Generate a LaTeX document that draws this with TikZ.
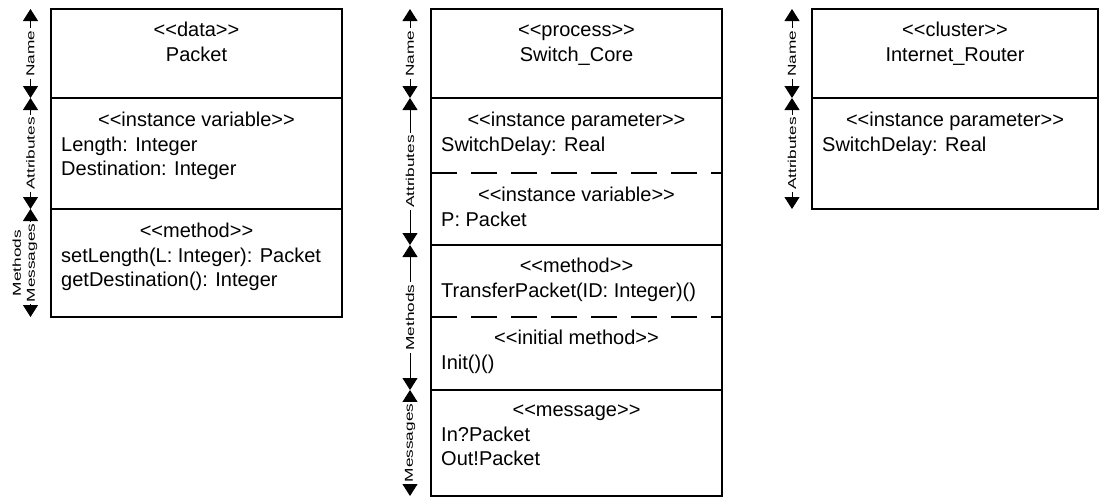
\documentclass[tikz,border=0pt]{standalone}
\usepackage{graphicx}
\usepackage{fontspec}
\setmainfont{Liberation Sans}[Ligatures=TeXOff]
\usetikzlibrary{arrows.meta}
\tikzset{
  dimtip/.tip={Triangle[width=15pt,length=12pt]},
  umlbox/.style={draw, line width=1.3pt, anchor=north west, inner sep=0pt, outer sep=0pt},
  divider/.style={line width=1.3pt},
  dashdiv/.style={line width=1.3pt, dash pattern=on 26pt off 14pt},
  stereo/.style={font=\fontsize{20}{24}\selectfont, anchor=base, inner sep=0pt},
  attr/.style={font=\fontsize{20}{24}\selectfont, anchor=base west, inner sep=0pt},
  dimlbl/.style={font=\fontsize{11.5}{14}\selectfont, rotate=90, fill=white, inner sep=2pt, align=center},
  dimarrow/.style={line width=1pt, arrows={dimtip-dimtip}},
}
\newcommand{\stretchlbl}[1]{\scalebox{1.5}[1]{#1}}
\begin{document}
\begin{tikzpicture}[x=1pt,y=-1pt]
\useasboundingbox (0,0) rectangle (1100,498);

% ---------------- Box 1: Packet ----------------
\node[umlbox, minimum width=291pt, minimum height=308pt] (b1) at (51,9) {};
\coordinate (b1l1) at (51,98);  \coordinate (b1r1) at (342,98);
\coordinate (b1l2) at (51,209); \coordinate (b1r2) at (342,209);
\draw[divider] (b1l1) -- (b1r1);
\draw[divider] (b1l2) -- (b1r2);
\node[stereo] (b1s1) at (196.5,36) {<<data>>};
\node[stereo] (b1n)  at (196.5,61) {Packet};
\node[stereo] (b1s2) at (196.5,126) {<<instance variable>>};
\node[attr]   (b1a1) at (61,151) {Length: Integer};
\node[attr]   (b1a2) at (61,175) {Destination: Integer};
\node[stereo] (b1s3) at (196.5,237) {<<method>>};
\node[attr]   (b1m1) at (61,262) {setLength(L: Integer): Packet};
\node[attr]   (b1m2) at (61,286) {getDestination(): Integer};

\coordinate (d1a) at (30.5,9);
\coordinate (d1b) at (30.5,98);
\coordinate (d1c) at (30.5,209);
\coordinate (d1d) at (30.5,317);
\draw[dimarrow] (d1a) -- node[dimlbl] (l1a) {\stretchlbl{Name}} (d1b);
\draw[dimarrow] (d1b) -- node[dimlbl] (l1b) {\stretchlbl{Attributes}} (d1c);
\draw[dimarrow] (d1c) -- (d1d);
\node[dimlbl] (l1c) at (25,263) {\stretchlbl{Methods}\\\stretchlbl{Messages}};

% ---------------- Box 2: Switch_Core ----------------
\node[umlbox, minimum width=291pt, minimum height=487pt] (b2) at (431,9) {};
\coordinate (b2l1) at (431,98);  \coordinate (b2r1) at (722,98);
\coordinate (b2l2) at (431,173); \coordinate (b2r2) at (722,173);
\coordinate (b2l3) at (431,245); \coordinate (b2r3) at (722,245);
\coordinate (b2l4) at (431,317); \coordinate (b2r4) at (722,317);
\coordinate (b2l5) at (431,390); \coordinate (b2r5) at (722,390);
\draw[divider] (b2l1) -- (b2r1);
\draw[dashdiv] (b2l2) -- (b2r2);
\draw[divider] (b2l3) -- (b2r3);
\draw[dashdiv] (b2l4) -- (b2r4);
\draw[divider] (b2l5) -- (b2r5);
\node[stereo] (b2s1) at (576.5,36) {<<process>>};
\node[stereo] (b2n)  at (576.5,61) {Switch\_Core};
\node[stereo] (b2s2) at (576.5,126) {<<instance parameter>>};
\node[attr]   (b2a1) at (441,151) {SwitchDelay: Real};
\node[stereo] (b2s3) at (576.5,201) {<<instance variable>>};
\node[attr]   (b2a2) at (441,226) {P: Packet};
\node[stereo] (b2s4) at (576.5,272) {<<method>>};
\node[attr]   (b2m1) at (441,297) {TransferPacket(ID: Integer)()};
\node[stereo] (b2s5) at (576.5,344) {<<initial method>>};
\node[attr]   (b2m2) at (441,369) {Init()()};
\node[stereo] (b2s6) at (576.5,416) {<<message>>};
\node[attr]   (b2g1) at (441,441) {In?Packet};
\node[attr]   (b2g2) at (441,465) {Out!Packet};

\coordinate (d2a) at (410,9);
\coordinate (d2b) at (410,98);
\coordinate (d2c) at (410,245);
\coordinate (d2d) at (410,390);
\coordinate (d2e) at (410,496);
\draw[dimarrow] (d2a) -- node[dimlbl] (l2a) {\stretchlbl{Name}} (d2b);
\draw[dimarrow] (d2b) -- node[dimlbl] (l2b) {\stretchlbl{Attributes}} (d2c);
\draw[dimarrow] (d2c) -- node[dimlbl] (l2c) {\stretchlbl{Methods}} (d2d);
\draw[dimarrow] (d2d) -- node[dimlbl] (l2d) {\stretchlbl{Messages}} (d2e);

% ---------------- Box 3: Internet_Router ----------------
\node[umlbox, minimum width=286pt, minimum height=200pt] (b3) at (812,9) {};
\coordinate (b3l1) at (812,98); \coordinate (b3r1) at (1098,98);
\draw[divider] (b3l1) -- (b3r1);
\node[stereo] (b3s1) at (955,36) {<<cluster>>};
\node[stereo] (b3n)  at (955,61) {Internet\_Router};
\node[stereo] (b3s2) at (955,126) {<<instance parameter>>};
\node[attr]   (b3a1) at (822,151) {SwitchDelay: Real};

\coordinate (d3a) at (792,9);
\coordinate (d3b) at (792,98);
\coordinate (d3c) at (792,209);
\draw[dimarrow] (d3a) -- node[dimlbl] (l3a) {\stretchlbl{Name}} (d3b);
\draw[dimarrow] (d3b) -- node[dimlbl] (l3b) {\stretchlbl{Attributes}} (d3c);
\end{tikzpicture}
\end{document}
